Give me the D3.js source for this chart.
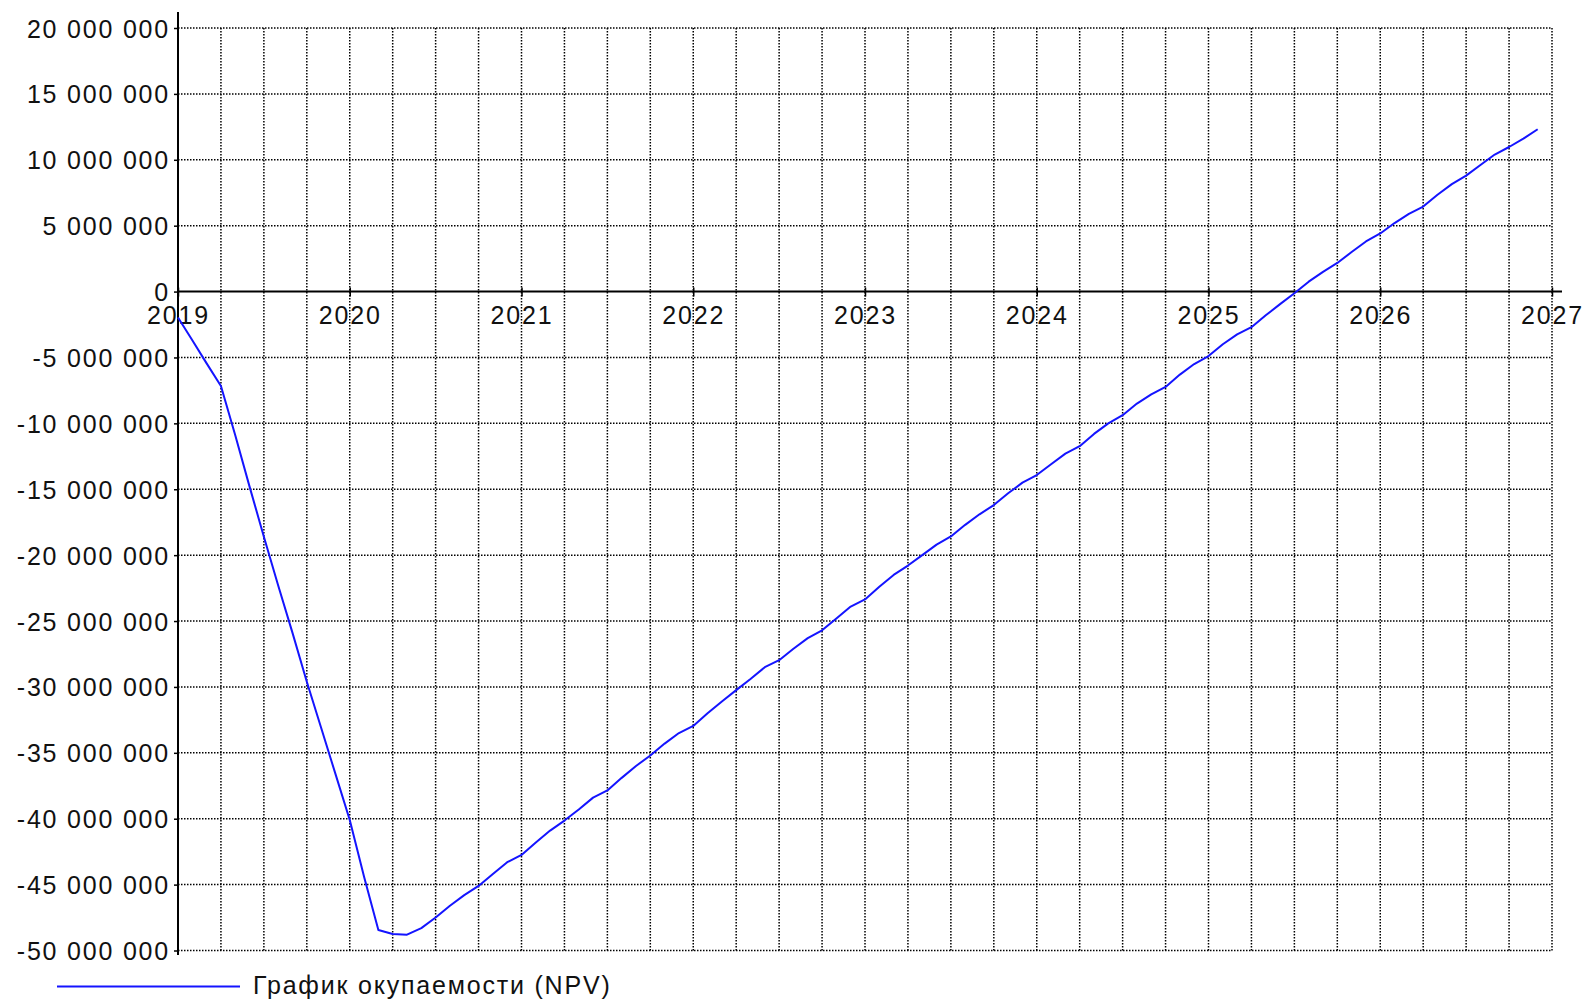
<!DOCTYPE html>
<html>
<head>
<meta charset="utf-8">
<script src="https://cdn.jsdelivr.net/npm/d3@7"></script>
<style>
  html, body { margin: 0; padding: 0; background: #ffffff; }
  svg { display: block; }
  text { font-family: "Liberation Sans", Arial, sans-serif; font-size: 25px; fill: #111; letter-spacing: 1.8px; }
</style>
</head>
<body>
<svg id="chart" width="1586" height="1002"></svg>
<script>
// Monthly cumulative NPV, January 2019 – December 2026, in millions of roubles
const monthIndex = d3.range(0, 96);
const npvMillions = [
  -1.97, -3.7, -5.45, -7.17, -10.9, -14.8, -18.6, -22.3, -25.9, -29.6, -33.1, -36.6,
  -40.1, -44.4, -48.45, -48.75, -48.8, -48.3, -47.5, -46.6, -45.8, -45.1, -44.2, -43.3,
  -42.75, -41.8, -40.9, -40.14, -39.3, -38.4, -37.85, -36.9, -36.0, -35.2, -34.3, -33.5,
  -32.96, -32.0, -31.1, -30.24, -29.4, -28.5, -27.97, -27.1, -26.3, -25.7, -24.8, -23.9,
  -23.36, -22.4, -21.5, -20.79, -20.0, -19.2, -18.58, -17.7, -16.9, -16.2, -15.3, -14.5,
  -13.92, -13.1, -12.3, -11.73, -10.8, -10.0, -9.38, -8.5, -7.8, -7.24, -6.3, -5.5,
  -4.89, -4.0, -3.25, -2.7, -1.8, -0.95, -0.13, 0.75, 1.5, 2.17, 3.0, 3.8,
  4.41, 5.2, 5.9, 6.45, 7.35, 8.15, 8.8, 9.6, 10.4, 10.97, 11.6, 12.32
];
const yearTicks = [2019, 2020, 2021, 2022, 2023, 2024, 2025, 2026, 2027];
const valueTicks = [20e6, 15e6, 10e6, 5e6, 0, -5e6, -10e6, -15e6, -20e6, -25e6, -30e6, -35e6, -40e6, -45e6, -50e6];
const seriesName = "График окупаемости (NPV)";

const series = monthIndex.map((m, i) => ({ t: 2019 + m / 12, v: npvMillions[i] * 1e6 }));

const svg = d3.select("#chart");
const x = d3.scaleLinear().domain([2019, 2027]).range([178, 1552]);
const y = d3.scaleLinear().domain([-50e6, 20e6]).range([950.5, 28]);

const locale = d3.formatLocale({ decimal: ",", thousands: " ", grouping: [3], currency: ["", ""], minus: "-" });
const fmt = locale.format(",d");

// dotted grid: quarterly verticals, 5 million horizontals
const quarters = d3.range(1, 33).map(q => 2019 + q / 4);
const grid = svg.append("g").attr("stroke", "#000").attr("stroke-width", 1.5).attr("stroke-dasharray", "1.5 1.5");
grid.selectAll("line.v").data(quarters).join("line")
  .attr("class", "v")
  .attr("x1", d => x(d)).attr("x2", d => x(d))
  .attr("y1", y(20e6)).attr("y2", y(-50e6));
grid.selectAll("line.h").data(valueTicks.filter(v => v !== 0)).join("line")
  .attr("class", "h")
  .attr("x1", x(2019)).attr("x2", x(2027))
  .attr("y1", d => y(d)).attr("y2", d => y(d));

// value axis
const yAxis = svg.append("g").attr("transform", `translate(${x(2019)},0)`)
  .call(d3.axisLeft(y).tickValues(valueTicks).tickFormat(fmt).tickSize(4).tickPadding(4));
yAxis.select(".domain").remove();
yAxis.selectAll(".tick line").attr("stroke", "#000").attr("stroke-width", 1.5);
yAxis.selectAll(".tick text").attr("dy", null).attr("y", 9);
yAxis.attr("font-family", null).attr("font-size", null);
svg.append("line")
  .attr("x1", x(2019)).attr("x2", x(2019))
  .attr("y1", 12).attr("y2", 955)
  .attr("stroke", "#000").attr("stroke-width", 2);

// time axis along zero
const xAxis = svg.append("g").attr("transform", `translate(0,${y(0)})`)
  .call(d3.axisBottom(x).tickValues(yearTicks).tickFormat(d3.format("d")).tickSize(5).tickPadding(10));
xAxis.select(".domain").remove();
xAxis.selectAll(".tick line").attr("y1", -4).attr("stroke", "#000").attr("stroke-width", 1.5);
xAxis.selectAll(".tick text").attr("dy", null).attr("y", 32.5);
xAxis.attr("font-family", null).attr("font-size", null);
svg.append("line")
  .attr("x1", x(2019)).attr("x2", 1562)
  .attr("y1", y(0)).attr("y2", y(0))
  .attr("stroke", "#000").attr("stroke-width", 2);

// NPV line
const line = d3.line().x(d => x(d.t)).y(d => y(d.v));
svg.append("path").datum(series)
  .attr("d", line)
  .attr("fill", "none")
  .attr("stroke", "#1414ff")
  .attr("stroke-width", 2)
  .attr("stroke-linejoin", "round");

// legend
const legend = svg.append("g");
legend.append("line")
  .attr("x1", 57).attr("x2", 240).attr("y1", 986.5).attr("y2", 986.5)
  .attr("stroke", "#1414ff").attr("stroke-width", 2);
legend.append("text").attr("x", 253).attr("y", 993.5).text(seriesName);
</script>
</body>
</html>
